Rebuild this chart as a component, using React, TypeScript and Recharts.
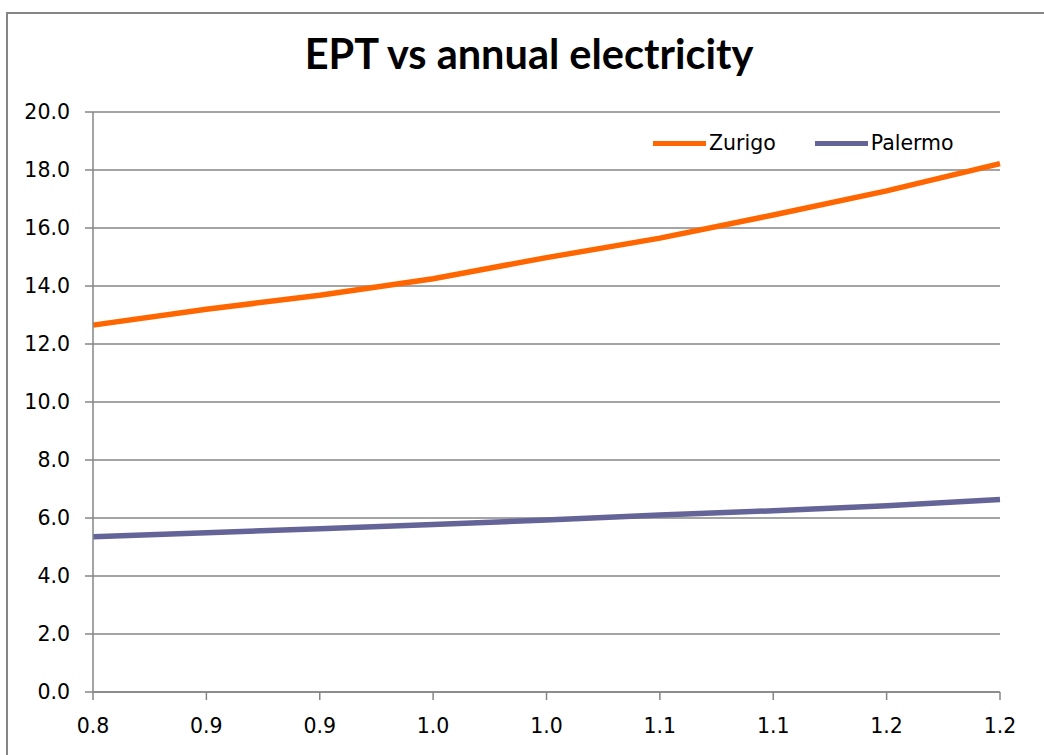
import { LineChart, Line, XAxis, YAxis, CartesianGrid } from 'recharts';

const xValues = [0.8, 0.85, 0.9, 0.95, 1.0, 1.05, 1.1, 1.15, 1.2];
const xLabels = ['0.8', '0.9', '0.9', '1.0', '1.0', '1.1', '1.1', '1.2', '1.2'];
const zurigo = [12.65, 13.2, 13.68, 14.25, 14.98, 15.65, 16.45, 17.28, 18.22];
const palermo = [5.35, 5.49, 5.63, 5.78, 5.93, 6.1, 6.25, 6.42, 6.64];
const yTicks = [0, 2, 4, 6, 8, 10, 12, 14, 16, 18, 20];

const data = xValues.map((x, i) => ({ x, zurigo: zurigo[i], palermo: palermo[i] }));

const GRAY = '#868686';
const FONT = '"DejaVu Sans", sans-serif';
const series = [
  { key: 'zurigo', name: 'Zurigo', color: '#FF6600' },
  { key: 'palermo', name: 'Palermo', color: '#646498' },
];

function LegendBox() {
  return (
    <div style={{ position: 'absolute', left: 653, top: 131, display: 'flex', alignItems: 'center', fontFamily: FONT, fontSize: 20.5, color: '#000' }}>
      {series.map((s, i) => (
        <div key={s.key} style={{ display: 'flex', alignItems: 'center', marginLeft: i ? 39 : 0 }}>
          <div style={{ width: 53, height: 5, background: s.color, marginRight: 3 }} />
          <span>{s.name}</span>
        </div>
      ))}
    </div>
  );
}

export default function App() {
  return (
    <div style={{ position: 'absolute', left: 0, top: 0, width: 1044, height: 755, background: '#fff', overflow: 'hidden' }}>
      <div style={{ position: 'absolute', left: 6, top: 12, width: 1100, height: 800, borderLeft: `2px solid ${GRAY}`, borderTop: `2px solid ${GRAY}`, boxSizing: 'border-box' }} />
      <div style={{ position: 'absolute', left: 0, width: 1058, top: 28, textAlign: 'center', fontFamily: 'Lato, sans-serif', fontWeight: 700, fontSize: 41.5, color: '#000' }}>
        EPT vs annual electricity
      </div>
      <LineChart width={1044} height={755} data={data} margin={{ top: 112, right: 44, bottom: 23, left: 0 }} style={{ position: 'absolute', left: 0, top: 0 }}>
        <CartesianGrid vertical={false} stroke={GRAY} strokeWidth={1.5} />
        <XAxis
          dataKey="x"
          type="number"
          domain={[0.8, 1.2]}
          ticks={xValues}
          tickFormatter={(v: number, i: number) => xLabels[i]}
          height={40}
          tickSize={8}
          tickMargin={18}
          stroke={GRAY}
          strokeWidth={1.5}
          tick={{ fill: '#000', fontFamily: FONT, fontSize: 20.5 }}
        />
        <YAxis
          domain={[0, 20]}
          ticks={yTicks}
          tickFormatter={(v: number) => v.toFixed(1)}
          width={93}
          tickSize={8}
          tickMargin={15}
          stroke={GRAY}
          strokeWidth={1.5}
          tick={{ fill: '#000', fontFamily: FONT, fontSize: 20.5 }}
        />
        {series.map((s) => (
          <Line key={s.key} type="linear" dataKey={s.key} name={s.name} stroke={s.color} strokeWidth={5.5} dot={false} isAnimationActive={false} />
        ))}
      </LineChart>
      <LegendBox />
    </div>
  );
}
